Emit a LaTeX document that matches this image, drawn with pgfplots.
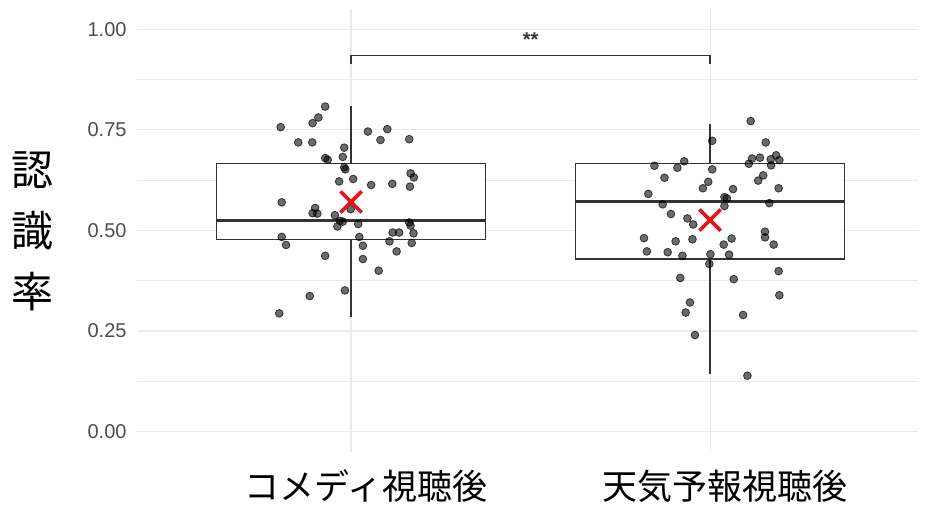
\documentclass[border=0pt]{standalone}
\usepackage{fontspec}
\setmainfont{Liberation Sans}
\newfontfamily\jp{Noto Sans CJK JP}
\usepackage{pgfplots}
\pgfplotsset{compat=1.18}
\definecolor{gridc}{HTML}{EBEBEB}
\definecolor{tickc}{HTML}{4D4D4D}
\definecolor{boxc}{HTML}{333333}
\definecolor{meanred}{RGB}{232,20,28}
\begin{document}
\begin{tikzpicture}
\begin{axis}[
  at={(0,0)}, anchor=south west,
  scale only axis, width=781.6pt, height=442.4pt,
  xmin=0.403, xmax=2.58, ymin=-0.05, ymax=1.05,
  axis line style={draw=none},
  major tick length=0pt, minor tick length=0pt,
  xtick={1,2},
  xticklabels={{コメディ視聴後},{天気予報視聴後}},
  ytick={0,0.25,0.5,0.75,1},
  minor ytick={0.125,0.375,0.625,0.875},
  yticklabel style={/pgf/number format/fixed, /pgf/number format/fixed zerofill, /pgf/number format/precision=2, /pgf/number format/assume math mode=true,
    font=\fontsize{20}{24}\selectfont, text=tickc, anchor=east, inner sep=0pt, xshift=-10pt},
  xticklabel style={font=\jp\fontsize{35}{40}\selectfont, text=black, anchor=north, inner sep=0pt, yshift=-18pt, xshift=15pt},
  grid=both,
  major grid style={draw=gridc, line width=1.1pt},
  minor grid style={draw=gridc, line width=0.8pt},
  clip=false,
]
% whiskers
\addplot[draw=boxc, line width=1.3pt] coordinates {(1,0.284) (1,0.810)};
\addplot[draw=boxc, line width=1.3pt] coordinates {(2,0.143) (2,0.764)};
% boxes (lower quartile / upper quartile)
\addplot[draw=boxc, line width=1.3pt, fill=white] coordinates {(0.625,0.478) (1.375,0.478) (1.375,0.667) (0.625,0.667) (0.625,0.478)} -- cycle;
\addplot[draw=boxc, line width=1.3pt, fill=white] coordinates {(1.625,0.429) (2.375,0.429) (2.375,0.667) (1.625,0.667) (1.625,0.429)} -- cycle;
% medians
\addplot[draw=boxc, line width=2.8pt] coordinates {(0.625,0.524) (1.375,0.524)};
\addplot[draw=boxc, line width=2.8pt] coordinates {(1.625,0.572) (2.375,0.572)};
% jittered points
\addplot[only marks, mark=*, mark size=3.9pt, mark options={fill=black, draw=black, fill opacity=0.58, draw opacity=0.68, line width=0.8pt}] coordinates {
(0.928,0.808) (0.909,0.781) (0.893,0.767) (0.804,0.757) (1.047,0.746) (1.101,0.752)
(1.082,0.725) (1.162,0.727) (0.853,0.719) (0.892,0.719) (0.981,0.706) (0.977,0.683)
(0.928,0.680) (0.935,0.676) (0.981,0.657) (0.984,0.652) (1.166,0.642) (1.175,0.632)
(0.967,0.622) (1.006,0.628) (1.056,0.613) (1.115,0.616) (1.164,0.609) (0.807,0.570)
(0.900,0.556) (0.893,0.543) (0.906,0.542) (0.955,0.538) (0.999,0.553) (0.969,0.524)
(0.977,0.522) (0.962,0.510) (1.020,0.516) (1.162,0.520) (1.166,0.512) (1.116,0.495)
(1.134,0.495) (1.174,0.493) (0.807,0.484) (0.819,0.464) (1.023,0.484) (1.107,0.473)
(1.169,0.469) (1.033,0.462) (1.127,0.448) (0.928,0.437) (1.033,0.429) (1.077,0.400)
(0.983,0.351) (0.885,0.337) (0.800,0.294)
};
\addplot[only marks, mark=*, mark size=3.9pt, mark options={fill=black, draw=black, fill opacity=0.58, draw opacity=0.68, line width=0.8pt}] coordinates {
(2.113,0.772) (2.006,0.723) (2.155,0.719) (2.117,0.679) (2.139,0.681) (2.108,0.666)
(2.169,0.677) (2.184,0.687) (2.193,0.675) (2.170,0.662) (1.845,0.661) (1.928,0.672)
(1.909,0.656) (2.006,0.652) (1.873,0.631) (2.148,0.637) (2.134,0.624) (1.995,0.621)
(1.980,0.605) (2.191,0.605) (2.064,0.603) (1.828,0.591) (2.040,0.583) (2.047,0.580)
(1.868,0.565) (2.165,0.568) (2.040,0.561) (1.891,0.541) (1.937,0.530) (1.953,0.515)
(2.153,0.497) (2.153,0.483) (1.816,0.481) (1.904,0.473) (1.951,0.478) (2.060,0.480)
(2.038,0.465) (2.177,0.465) (1.824,0.448) (1.882,0.446) (1.923,0.437) (2.001,0.441)
(2.053,0.440) (1.998,0.417) (2.191,0.399) (1.917,0.382) (2.066,0.379) (2.193,0.339)
(1.944,0.321) (1.932,0.296) (2.092,0.290) (1.958,0.240) (2.104,0.139)
};
% means
\addplot[only marks, mark=x, mark size=15pt, mark options={draw=meanred, line width=3.6pt}] coordinates {(1,0.571) (2,0.526)};
% significance bracket
\draw[boxc, line width=1.2pt] (axis cs:1,0.913) -- (axis cs:1,0.935) -- (axis cs:2,0.935) -- (axis cs:2,0.913);
\node[font=\bfseries\fontsize{20}{24}\selectfont, text=boxc] at (axis cs:1.5,0.975) {**};
\end{axis}
\node[font=\jp\fontsize{42}{61}\selectfont, align=center, inner sep=0pt] at (-103.7pt,220.7pt) {認\\識\\率};
\pgfresetboundingbox
\useasboundingbox (-136.7pt,-66.3pt) rectangle (801.3pt,451.7pt);
\end{tikzpicture}
\end{document}
